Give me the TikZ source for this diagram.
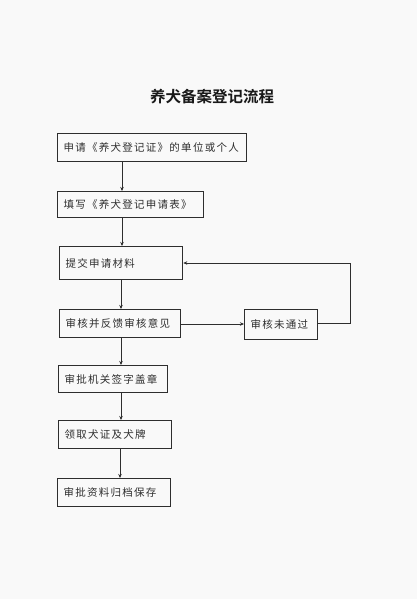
\documentclass[tikz,border=0pt]{standalone}
\usepackage{fontspec}
\newfontfamily\cjk[LetterSpace=12]{Noto Sans CJK SC}
\newfontfamily\cjktitle{Noto Sans CJK SC Bold}
\usetikzlibrary{arrows.meta}
\definecolor{bg}{HTML}{F9F9F9}
\definecolor{ln}{HTML}{2E2E2E}
\begin{document}
\begin{tikzpicture}[x=1pt,y=-1pt,
  box/.style={draw=ln, line width=1.3pt, anchor=north west, inner xsep=6pt, inner ysep=0pt,
    font=\cjk\fontsize{10.5}{12}\selectfont, text=ln, align=left},
  arr/.style={draw=ln, line width=1pt, -{Stealth[length=4pt,width=3.5pt]}}]
\useasboundingbox[fill=bg] (0,0) rectangle (417,599);
\node[font=\cjktitle\fontsize{15.5}{18}\selectfont, text=black!90] (title) at (212,97) {养犬备案登记流程};
\node[box, minimum width=189pt, minimum height=28pt, text width=177pt] (b1) at (57,133) {\raisebox{-2pt}{申请《养犬登记证》的单位或个人}};
\node[box, minimum width=146pt, minimum height=26pt, text width=134pt] (b2) at (57,191) {\raisebox{-2pt}{填写《养犬登记申请表》}};
\node[box, minimum width=123pt, minimum height=33pt, text width=111pt] (b3) at (59,246) {提交申请材料};
\node[box, minimum width=121pt, minimum height=28pt, text width=109pt] (b4) at (59,309) {\raisebox{-2pt}{审核并反馈审核意见}};
\node[box, minimum width=73pt, minimum height=30pt, text width=61pt] (b8) at (244,309) {\raisebox{-2pt}{审核未通过}};
\node[box, minimum width=109pt, minimum height=27pt, text width=97pt] (b5) at (58,365) {\raisebox{-2pt}{审批机关签字盖章}};
\node[box, minimum width=113pt, minimum height=28pt, text width=101pt] (b6) at (58,420) {\raisebox{-2pt}{领取犬证及犬牌}};
\node[box, minimum width=113pt, minimum height=28pt, text width=101pt] (b7) at (57,478) {\raisebox{-2pt}{审批资料归档保存}};
\draw[arr] (b1.south -| 122,0) -- (b2.north -| 122,0);
\draw[arr] (b2.south -| 122,0) -- (b3.north -| 122,0);
\draw[arr] (b3.south -| 121,0) -- (b4.north -| 121,0);
\draw[arr] (b4.south -| 121,0) -- (b5.north -| 121,0);
\draw[arr] (b5.south -| 121,0) -- (b6.north -| 121,0);
\draw[arr] (b6.south -| 120,0) -- (b7.north -| 120,0);
\draw[arr] (b4.east |- 0,324) -- (b8.west |- 0,324);
\draw[arr] (b8.east |- 0,323) -- (350,323) -- (350,263) -- (b3.east |- 0,263);
\end{tikzpicture}
\end{document}
